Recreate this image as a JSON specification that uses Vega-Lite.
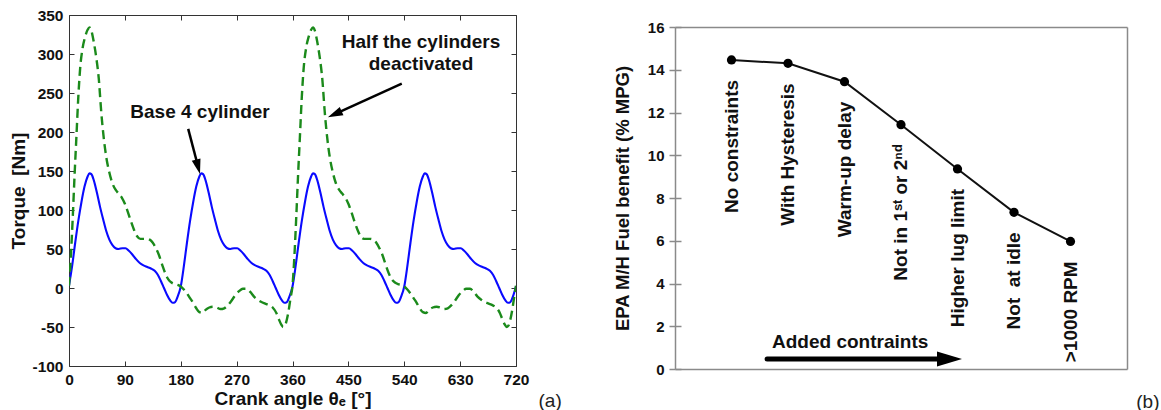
{
  "$schema": "https://vega.github.io/schema/vega-lite/v6.json",
  "background": "white",
  "padding": {"left": 9, "top": 8, "right": 0, "bottom": 0},
  "bounds": "flush",
  "spacing": 159,
  "config": {
    "view": {"stroke": null},
    "font": "Liberation Sans",
    "axis": {"grid": false, "labelFont": "Liberation Sans", "titleFont": "Liberation Sans", "labelFontWeight": "bold", "titleFontWeight": "bold", "labelColor": "#111111", "titleColor": "#111111"}
  },
  "datasets": {
    "base": [
      {"angle":0,"torque":3},{"angle":5,"torque":28},{"angle":10,"torque":58},{"angle":15,"torque":86},{"angle":20,"torque":110},{"angle":25,"torque":130},{"angle":30,"torque":143},{"angle":33,"torque":147},{"angle":36,"torque":146},{"angle":40,"torque":138},{"angle":45,"torque":122},{"angle":50,"torque":104},{"angle":55,"torque":88},{"angle":60,"torque":73},{"angle":65,"torque":62},{"angle":70,"torque":55},{"angle":75,"torque":51},{"angle":80,"torque":50},{"angle":86,"torque":51},{"angle":91,"torque":51},{"angle":96,"torque":48},{"angle":102,"torque":43},{"angle":108,"torque":37},{"angle":114,"torque":32},{"angle":120,"torque":29},{"angle":126,"torque":27},{"angle":132,"torque":25},{"angle":138,"torque":22},{"angle":143,"torque":17},{"angle":148,"torque":9},{"angle":153,"torque":0},{"angle":158,"torque":-9},{"angle":163,"torque":-16},{"angle":167,"torque":-19},{"angle":171,"torque":-18},{"angle":175,"torque":-11},
      {"angle":180,"torque":2},{"angle":185,"torque":28},{"angle":190,"torque":58},{"angle":195,"torque":86},{"angle":200,"torque":110},{"angle":205,"torque":130},{"angle":210,"torque":143},{"angle":213,"torque":147},{"angle":216,"torque":146},{"angle":220,"torque":138},{"angle":225,"torque":122},{"angle":230,"torque":104},{"angle":235,"torque":88},{"angle":240,"torque":73},{"angle":245,"torque":62},{"angle":250,"torque":55},{"angle":255,"torque":51},{"angle":260,"torque":50},{"angle":266,"torque":51},{"angle":271,"torque":51},{"angle":276,"torque":48},{"angle":282,"torque":43},{"angle":288,"torque":37},{"angle":294,"torque":32},{"angle":300,"torque":29},{"angle":306,"torque":27},{"angle":312,"torque":25},{"angle":318,"torque":22},{"angle":323,"torque":17},{"angle":328,"torque":9},{"angle":333,"torque":0},{"angle":338,"torque":-9},{"angle":343,"torque":-16},{"angle":347,"torque":-19},{"angle":351,"torque":-18},{"angle":355,"torque":-11},
      {"angle":360,"torque":2},{"angle":365,"torque":28},{"angle":370,"torque":58},{"angle":375,"torque":86},{"angle":380,"torque":110},{"angle":385,"torque":130},{"angle":390,"torque":143},{"angle":393,"torque":147},{"angle":396,"torque":146},{"angle":400,"torque":138},{"angle":405,"torque":122},{"angle":410,"torque":104},{"angle":415,"torque":88},{"angle":420,"torque":73},{"angle":425,"torque":62},{"angle":430,"torque":55},{"angle":435,"torque":51},{"angle":440,"torque":50},{"angle":446,"torque":51},{"angle":451,"torque":51},{"angle":456,"torque":48},{"angle":462,"torque":43},{"angle":468,"torque":37},{"angle":474,"torque":32},{"angle":480,"torque":29},{"angle":486,"torque":27},{"angle":492,"torque":25},{"angle":498,"torque":22},{"angle":503,"torque":17},{"angle":508,"torque":9},{"angle":513,"torque":0},{"angle":518,"torque":-9},{"angle":523,"torque":-16},{"angle":527,"torque":-19},{"angle":531,"torque":-18},{"angle":535,"torque":-11},
      {"angle":540,"torque":2},{"angle":545,"torque":28},{"angle":550,"torque":58},{"angle":555,"torque":86},{"angle":560,"torque":110},{"angle":565,"torque":130},{"angle":570,"torque":143},{"angle":573,"torque":147},{"angle":576,"torque":146},{"angle":580,"torque":138},{"angle":585,"torque":122},{"angle":590,"torque":104},{"angle":595,"torque":88},{"angle":600,"torque":73},{"angle":605,"torque":62},{"angle":610,"torque":55},{"angle":615,"torque":51},{"angle":620,"torque":50},{"angle":626,"torque":51},{"angle":631,"torque":51},{"angle":636,"torque":48},{"angle":642,"torque":43},{"angle":648,"torque":37},{"angle":654,"torque":32},{"angle":660,"torque":29},{"angle":666,"torque":27},{"angle":672,"torque":25},{"angle":678,"torque":22},{"angle":683,"torque":17},{"angle":688,"torque":9},{"angle":693,"torque":0},{"angle":698,"torque":-9},{"angle":703,"torque":-16},{"angle":707,"torque":-19},{"angle":711,"torque":-18},{"angle":715,"torque":-11},{"angle":720,"torque":2}
    ],
    "half": [
      {"angle":0,"torque":3},{"angle":3,"torque":40},{"angle":6,"torque":90},{"angle":9,"torque":145},{"angle":12,"torque":195},{"angle":15,"torque":245},{"angle":18,"torque":282},{"angle":22,"torque":308},{"angle":26,"torque":322},{"angle":30,"torque":331},{"angle":33,"torque":334},{"angle":36,"torque":330},{"angle":40,"torque":315},{"angle":44,"torque":295},{"angle":48,"torque":268},{"angle":52,"torque":225},{"angle":56,"torque":192},{"angle":60,"torque":168},{"angle":65,"torque":148},{"angle":70,"torque":134},{"angle":75,"torque":126},{"angle":80,"torque":121},{"angle":85,"torque":116},{"angle":90,"torque":108},{"angle":95,"torque":97},{"angle":100,"torque":85},{"angle":105,"torque":74},{"angle":110,"torque":66},{"angle":115,"torque":63},{"angle":120,"torque":63},{"angle":125,"torque":63},{"angle":130,"torque":62},{"angle":135,"torque":58},{"angle":140,"torque":51},{"angle":145,"torque":42},{"angle":150,"torque":30},{"angle":155,"torque":19},{"angle":160,"torque":11},{"angle":165,"torque":7},{"angle":170,"torque":5},{"angle":175,"torque":4},{"angle":180,"torque":2},{"angle":185,"torque":-2},{"angle":190,"torque":-7},{"angle":195,"torque":-13},{"angle":200,"torque":-19},{"angle":205,"torque":-26},{"angle":210,"torque":-31},{"angle":215,"torque":-32},{"angle":220,"torque":-28},{"angle":226,"torque":-25},{"angle":232,"torque":-24},{"angle":238,"torque":-25},{"angle":244,"torque":-27},{"angle":250,"torque":-26},{"angle":256,"torque":-22},{"angle":262,"torque":-16},{"angle":268,"torque":-9},{"angle":274,"torque":-4},{"angle":280,"torque":-1},{"angle":286,"torque":-1},{"angle":292,"torque":-5},{"angle":298,"torque":-11},{"angle":304,"torque":-15},{"angle":310,"torque":-18},{"angle":316,"torque":-20},{"angle":322,"torque":-22},{"angle":328,"torque":-25},{"angle":334,"torque":-32},{"angle":338,"torque":-40},{"angle":342,"torque":-47},{"angle":345,"torque":-50},{"angle":348,"torque":-48},{"angle":351,"torque":-40},{"angle":354,"torque":-28},{"angle":357,"torque":-12},
      {"angle":360,"torque":3},{"angle":363,"torque":40},{"angle":366,"torque":90},{"angle":369,"torque":145},{"angle":372,"torque":195},{"angle":375,"torque":245},{"angle":378,"torque":282},{"angle":382,"torque":308},{"angle":386,"torque":322},{"angle":390,"torque":331},{"angle":393,"torque":334},{"angle":396,"torque":330},{"angle":400,"torque":315},{"angle":404,"torque":295},{"angle":408,"torque":268},{"angle":412,"torque":225},{"angle":416,"torque":192},{"angle":420,"torque":168},{"angle":425,"torque":148},{"angle":430,"torque":134},{"angle":435,"torque":126},{"angle":440,"torque":121},{"angle":445,"torque":116},{"angle":450,"torque":108},{"angle":455,"torque":97},{"angle":460,"torque":85},{"angle":465,"torque":74},{"angle":470,"torque":66},{"angle":475,"torque":63},{"angle":480,"torque":63},{"angle":485,"torque":63},{"angle":490,"torque":62},{"angle":495,"torque":58},{"angle":500,"torque":51},{"angle":505,"torque":42},{"angle":510,"torque":30},{"angle":515,"torque":19},{"angle":520,"torque":11},{"angle":525,"torque":7},{"angle":530,"torque":5},{"angle":535,"torque":4},{"angle":540,"torque":2},{"angle":545,"torque":-2},{"angle":550,"torque":-7},{"angle":555,"torque":-13},{"angle":560,"torque":-19},{"angle":565,"torque":-26},{"angle":570,"torque":-31},{"angle":575,"torque":-32},{"angle":580,"torque":-28},{"angle":586,"torque":-25},{"angle":592,"torque":-24},{"angle":598,"torque":-25},{"angle":604,"torque":-27},{"angle":610,"torque":-26},{"angle":616,"torque":-22},{"angle":622,"torque":-16},{"angle":628,"torque":-9},{"angle":634,"torque":-4},{"angle":640,"torque":-1},{"angle":646,"torque":-1},{"angle":652,"torque":-5},{"angle":658,"torque":-11},{"angle":664,"torque":-15},{"angle":670,"torque":-18},{"angle":676,"torque":-20},{"angle":682,"torque":-22},{"angle":688,"torque":-25},{"angle":694,"torque":-32},{"angle":698,"torque":-40},{"angle":702,"torque":-47},{"angle":705,"torque":-50},{"angle":708,"torque":-48},{"angle":711,"torque":-40},{"angle":714,"torque":-28},{"angle":717,"torque":-12},{"angle":720,"torque":3}
    ],
    "notes": [
      {"angle":211,"torque":225.6,"text":"Base 4 cylinder"},
      {"angle":567,"torque":315.4,"text":"Half the cylinders"},
      {"angle":567,"torque":287.2,"text":"deactivated"}
    ],
    "shafts": [
      {"angle":192,"torque":204,"angle2":207.9,"torque2":155.7},
      {"angle":536,"torque":262,"angle2":428,"torque2":223}
    ],
    "steps": [
      {"step":1,"benefit":14.46,"label":"No constraints"},
      {"step":2,"benefit":14.3,"label":"With Hysteresis"},
      {"step":3,"benefit":13.44,"label":"Warm-up delay"},
      {"step":4,"benefit":11.43,"label":"Not in 1ˢᵗ or 2ⁿᵈ"},
      {"step":5,"benefit":9.36,"label":"Higher lug limit"},
      {"step":6,"benefit":7.33,"label":"Not\u00a0 at idle"},
      {"step":7,"benefit":5.97,"label":">1000 RPM"}
    ]
  },
  "hconcat": [
    {
      "width": 447,
      "height": 351,
      "resolve": {"axis": {"x": "independent", "y": "independent"}},
      "layer": [
        {
          "data": {"name": "base"},
          "mark": {"type": "line", "color": "#0a0aff", "strokeWidth": 2.1, "interpolate": "monotone", "clip": true},
          "encoding": {
            "x": {"field": "angle", "type": "quantitative", "scale": {"domain": [0, 720], "nice": false, "zero": false},
              "axis": {"orient": "bottom", "values": [0,90,180,270,360,450,540,630,720], "title": "Crank angle θₑ [°]", "tickSize": -5, "labelPadding": 11, "labelFontSize": 15.5, "titleFontSize": 19, "titlePadding": 2, "domainColor": "#333333", "tickColor": "#333333", "labelFlush": false}},
            "y": {"field": "torque", "type": "quantitative", "scale": {"domain": [-100, 350], "nice": false, "zero": false},
              "axis": {"orient": "left", "values": [-100,-50,0,50,100,150,200,250,300,350], "labelExpr": "replace(datum.label, '−', '-')", "title": "Torque\u00a0 [Nm]", "tickSize": -5, "labelPadding": 11, "labelFontSize": 15.5, "titleFontSize": 19, "titlePadding": 3, "domainColor": "#333333", "tickColor": "#333333", "labelFlush": false}}
          }
        },
        {
          "data": {"name": "half"},
          "mark": {"type": "line", "color": "#1b8a1b", "strokeWidth": 2.4, "strokeDash": [9, 5], "interpolate": "monotone", "clip": true},
          "encoding": {
            "x": {"field": "angle", "type": "quantitative", "scale": {"domain": [0, 720], "nice": false, "zero": false},
              "axis": {"orient": "top", "values": [0,90,180,270,360,450,540,630,720], "labels": false, "title": null, "tickSize": -5, "domainColor": "#333333", "tickColor": "#333333"}},
            "y": {"field": "torque", "type": "quantitative", "scale": {"domain": [-100, 350], "nice": false, "zero": false},
              "axis": {"orient": "right", "values": [-100,-50,0,50,100,150,200,250,300,350], "labels": false, "title": null, "tickSize": -5, "domainColor": "#333333", "tickColor": "#333333"}}
          }
        },
        {
          "data": {"name": "notes"},
          "mark": {"type": "text", "font": "Liberation Sans", "fontWeight": "bold", "fontSize": 19, "color": "#111111", "align": "center", "baseline": "middle"},
          "encoding": {
            "x": {"field": "angle", "type": "quantitative", "axis": null},
            "y": {"field": "torque", "type": "quantitative", "axis": null},
            "text": {"field": "text"}
          }
        },
        {
          "data": {"name": "shafts"},
          "mark": {"type": "rule", "color": "#000000", "strokeWidth": 2.5},
          "encoding": {
            "x": {"field": "angle", "type": "quantitative", "axis": null},
            "y": {"field": "torque", "type": "quantitative", "axis": null},
            "x2": {"field": "angle2"},
            "y2": {"field": "torque2"}
          }
        },
        {
          "data": {"values": [{"angle": 211, "torque": 146}]},
          "mark": {"type": "point", "shape": "M0,0L-0.6,2L0.6,2Z", "size": 225, "filled": true, "color": "#000000", "opacity": 1, "angle": 165},
          "encoding": {
            "x": {"field": "angle", "type": "quantitative", "axis": null},
            "y": {"field": "torque", "type": "quantitative", "axis": null}
          }
        },
        {
          "data": {"values": [{"angle": 417, "torque": 219}]},
          "mark": {"type": "point", "shape": "M0,0L-0.6,2L0.6,2Z", "size": 225, "filled": true, "color": "#000000", "opacity": 1, "angle": 246},
          "encoding": {
            "x": {"field": "angle", "type": "quantitative", "axis": null},
            "y": {"field": "torque", "type": "quantitative", "axis": null}
          }
        },
        {
          "data": {"values": [{"angle": 775, "torque": -145, "text": "(a)"}]},
          "mark": {"type": "text", "font": "Liberation Sans", "fontSize": 19, "color": "#222222", "align": "center", "baseline": "middle"},
          "encoding": {
            "x": {"field": "angle", "type": "quantitative", "axis": null},
            "y": {"field": "torque", "type": "quantitative", "axis": null},
            "text": {"field": "text"}
          }
        }
      ]
    },
    {
      "width": 452,
      "height": 354,
      "resolve": {"axis": {"x": "independent", "y": "independent"}},
      "layer": [
        {
          "data": {"name": "steps"},
          "mark": {"type": "line", "color": "#111111", "strokeWidth": 2},
          "encoding": {
            "x": {"field": "step", "type": "quantitative", "scale": {"domain": [0, 8], "nice": false, "zero": false},
              "axis": {"orient": "bottom", "ticks": false, "labels": false, "title": null, "domainColor": "#8a8a8a", "domainWidth": 1.5}},
            "y": {"field": "benefit", "type": "quantitative", "scale": {"domain": [0, 16], "nice": false, "zero": false, "range": [354, 12]},
              "axis": {"orient": "left", "values": [0,2,4,6,8,10,12,14,16], "title": "EPA M/H Fuel benefit (% MPG)", "tickSize": 6, "labelPadding": 5, "labelFontSize": 15, "titleFontSize": 18.5, "titlePadding": 15, "domainColor": "#8a8a8a", "domainWidth": 1.5, "tickColor": "#8a8a8a", "tickWidth": 1.5, "labelFlush": false}}
          }
        },
        {
          "data": {"name": "steps"},
          "mark": {"type": "point", "filled": true, "color": "#000000", "opacity": 1, "size": 85},
          "encoding": {
            "x": {"field": "step", "type": "quantitative", "scale": {"domain": [0, 8], "nice": false, "zero": false},
              "axis": {"orient": "top", "offset": -12, "ticks": false, "labels": false, "title": null, "domainColor": "#8a8a8a", "domainWidth": 1.5}},
            "y": {"field": "benefit", "type": "quantitative", "scale": {"domain": [0, 16], "nice": false, "zero": false, "range": [354, 12]},
              "axis": {"orient": "right", "ticks": false, "labels": false, "title": null, "domainColor": "#8a8a8a", "domainWidth": 1.5}}
          }
        },
        {
          "data": {"name": "steps"},
          "mark": {"type": "text", "font": "Liberation Sans", "fontWeight": "bold", "fontSize": 19, "color": "#111111", "angle": 270, "align": "right", "baseline": "middle", "dx": -20},
          "encoding": {
            "x": {"field": "step", "type": "quantitative", "axis": null},
            "y": {"field": "benefit", "type": "quantitative",
              "axis": {"orient": "left", "values": [0,2,4,6,8,10,12,14,16], "tickSize": -6, "labels": false, "domain": false, "title": null, "tickColor": "#8a8a8a", "tickWidth": 1.5}},
            "text": {"field": "label"}
          }
        },
        {
          "data": {"values": [{"step": 3.1, "benefit": 1.26, "text": "Added contraints"}]},
          "mark": {"type": "text", "font": "Liberation Sans", "fontWeight": "bold", "fontSize": 19, "color": "#111111", "align": "center", "baseline": "middle"},
          "encoding": {
            "x": {"field": "step", "type": "quantitative", "axis": null},
            "y": {"field": "benefit", "type": "quantitative", "axis": null},
            "text": {"field": "text"}
          }
        },
        {
          "data": {"values": [{"step": 1.63, "benefit": 0.47, "step2": 4.7}]},
          "mark": {"type": "rule", "color": "#000000", "strokeWidth": 5, "strokeCap": "round"},
          "encoding": {
            "x": {"field": "step", "type": "quantitative", "axis": null},
            "x2": {"field": "step2"},
            "y": {"field": "benefit", "type": "quantitative", "axis": null}
          }
        },
        {
          "data": {"values": [{"step": 5.08, "benefit": 0.47}]},
          "mark": {"type": "point", "shape": "M0,0L-0.6,2L0.6,2Z", "size": 625, "filled": true, "color": "#000000", "opacity": 1, "angle": 90},
          "encoding": {
            "x": {"field": "step", "type": "quantitative", "axis": null},
            "y": {"field": "benefit", "type": "quantitative", "axis": null}
          }
        },
        {
          "data": {"values": [{"step": 8.37, "benefit": -1.54, "text": "(b)"}]},
          "mark": {"type": "text", "font": "Liberation Sans", "fontSize": 19, "color": "#222222", "align": "center", "baseline": "middle"},
          "encoding": {
            "x": {"field": "step", "type": "quantitative", "axis": null},
            "y": {"field": "benefit", "type": "quantitative", "axis": null},
            "text": {"field": "text"}
          }
        }
      ]
    }
  ]
}
